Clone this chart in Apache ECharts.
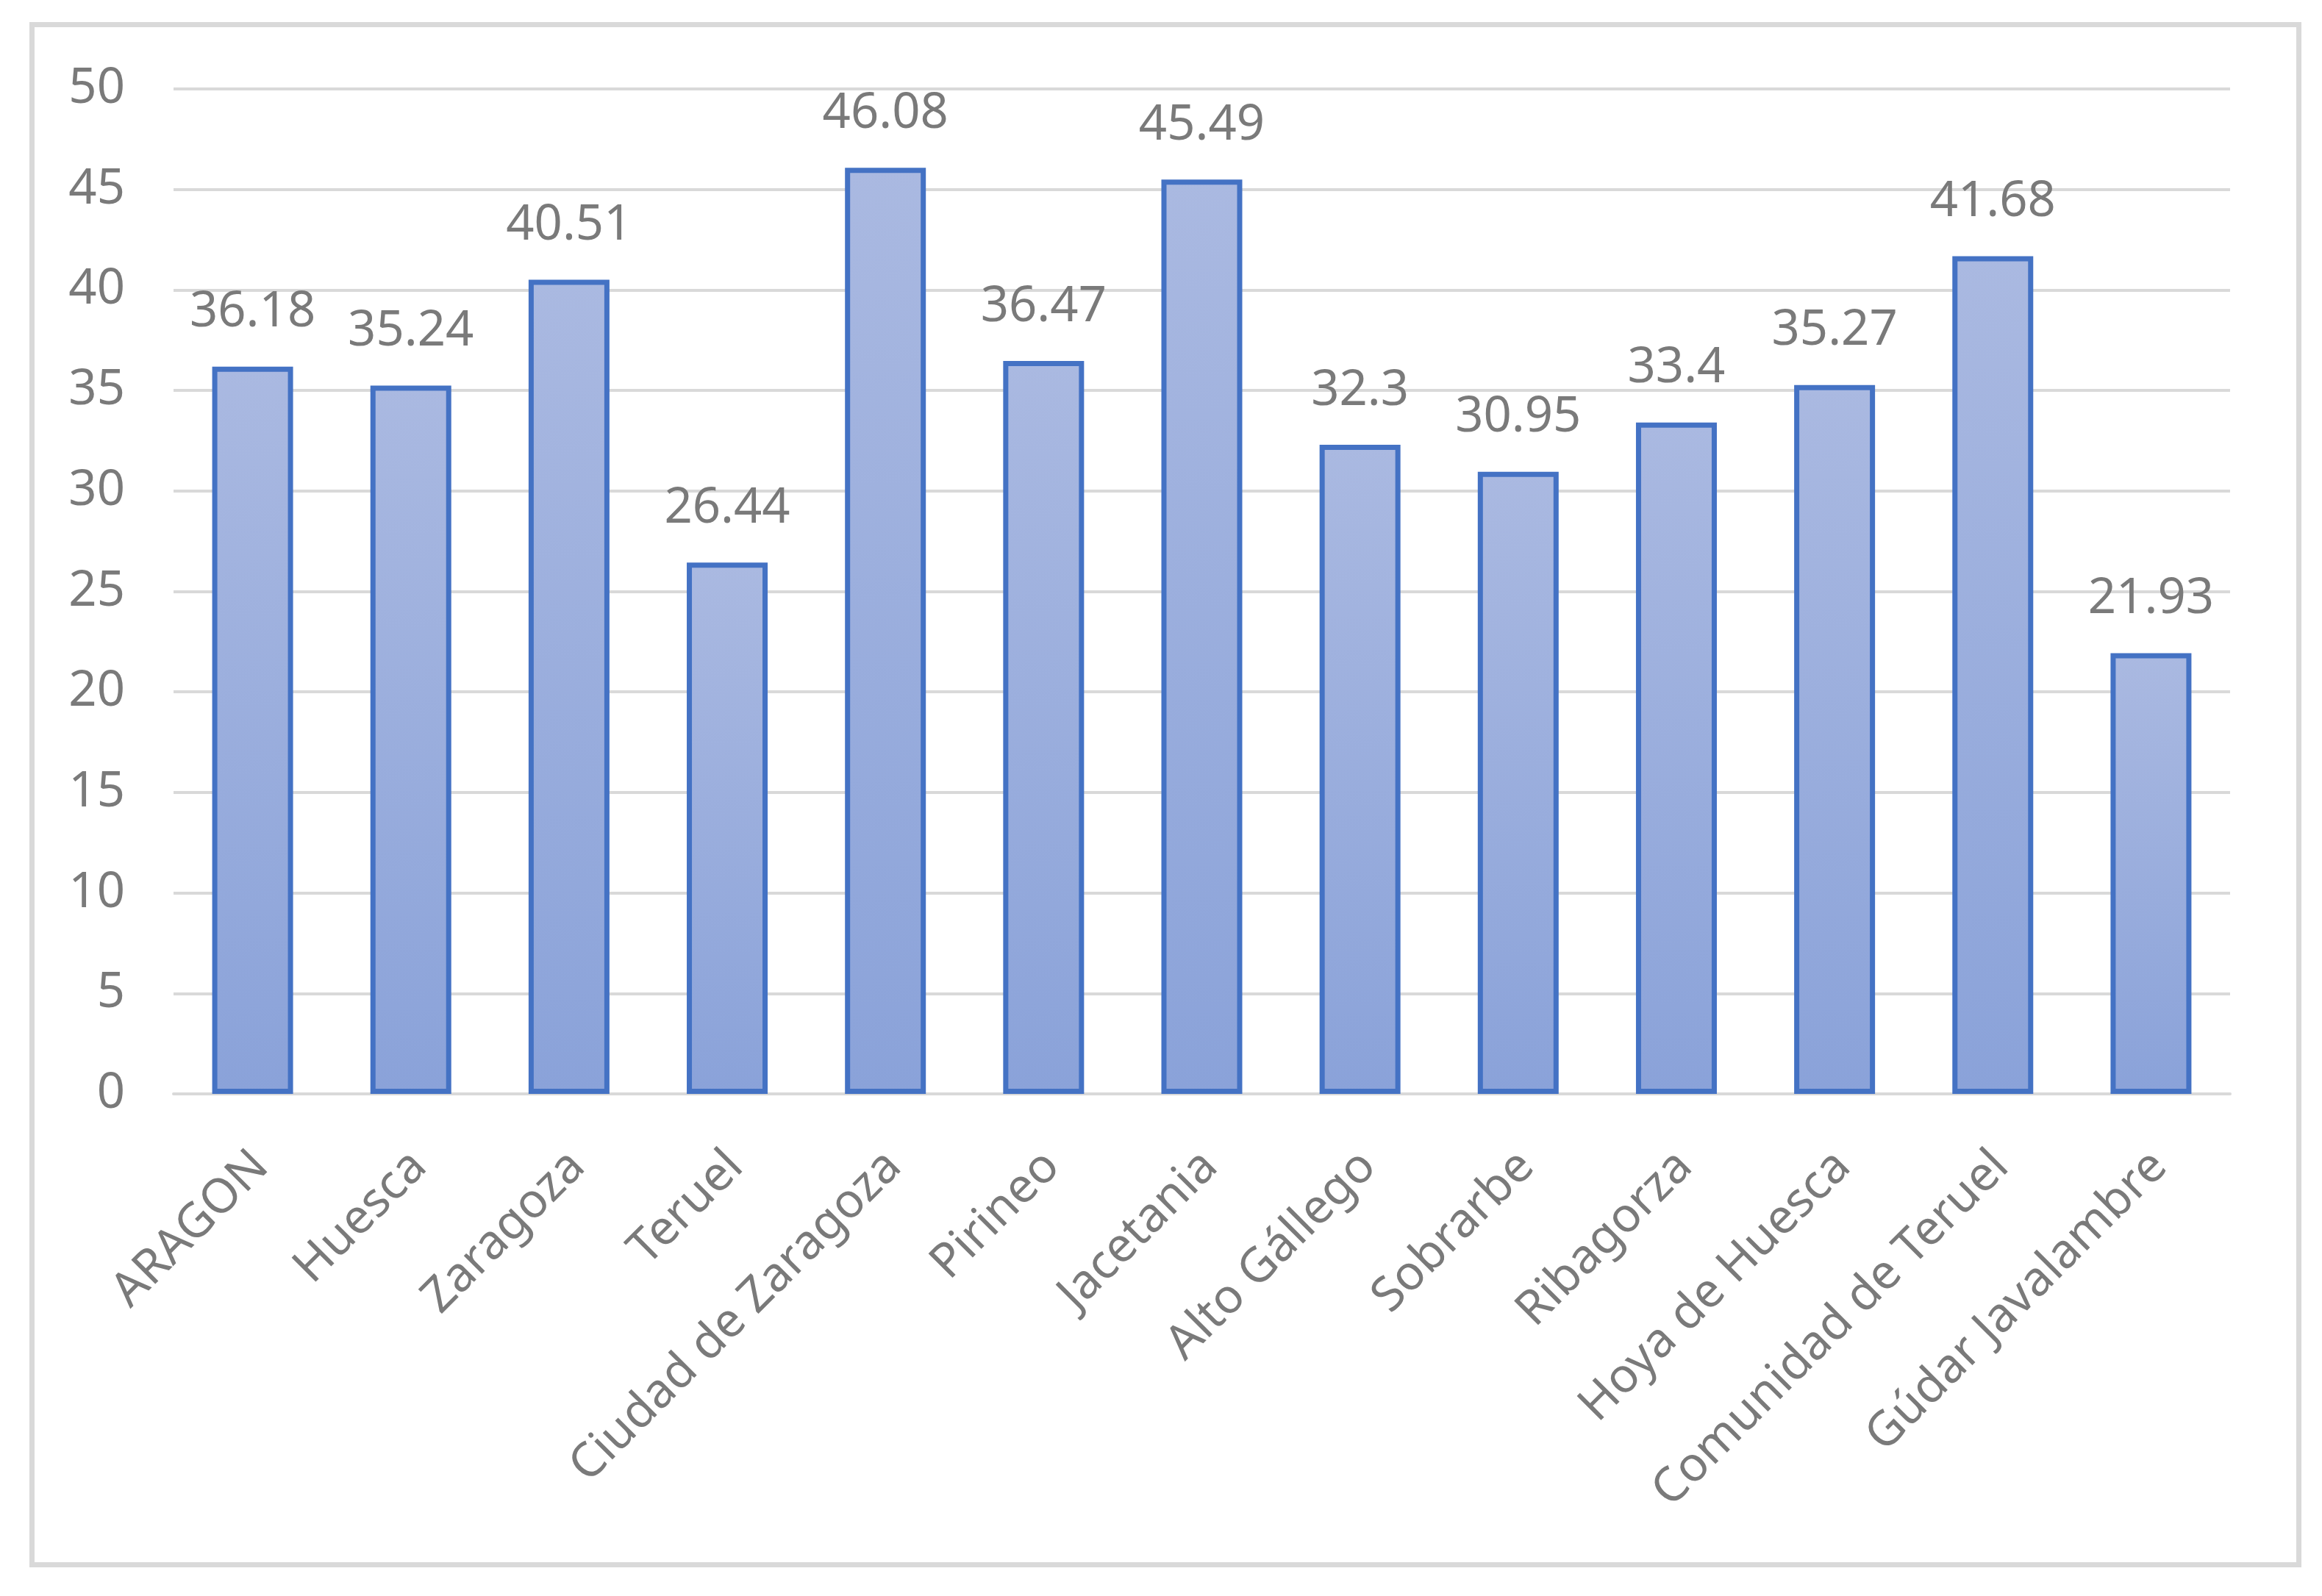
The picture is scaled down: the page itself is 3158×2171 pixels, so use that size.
<!DOCTYPE html>
<html>
<head>
<meta charset="utf-8">
<script src="https://cdn.jsdelivr.net/npm/echarts@6/dist/echarts.min.js"></script>
<style>
html,body{margin:0;padding:0;background:#fff;}
#chart{width:3158px;height:2171px;}
</style>
</head>
<body>
<div id="chart"></div>
<script>
const categories = ["ARAGON","Huesca","Zaragoza","Teruel","Ciudad de Zaragoza","Pirineo","Jacetania","Alto Gállego","Sobrarbe","Ribagorza","Hoya de Huesca","Comunidad de Teruel","Gúdar Javalambre"];
const values = [36.18,35.24,40.51,26.44,46.08,36.47,45.49,32.3,30.95,33.4,35.27,41.68,21.93];
const yMin = 0, yMax = 50, yStep = 5;

const chart = echarts.init(document.getElementById('chart'), null, {renderer:'canvas'});
const font = '"Noto Sans", "Open Sans", sans-serif';
chart.setOption({
  animation:false,
  backgroundColor:'#ffffff',
  graphic:[{
    type:'rect', left:40, top:30, silent:true,
    shape:{x:0,y:0,width:3083,height:2095},
    style:{fill:'none', stroke:'#d9d9d9', lineWidth:7}
  }],
  grid:{left:236, right:125, top:121, bottom:683, containLabel:false},
  xAxis:{
    type:'category', data:categories,
    axisTick:{show:false},
    axisLine:{show:true, lineStyle:{color:'#d9d9d9', width:4}},
    axisLabel:{rotate:45, fontSize:65, color:'#7a7a7a', fontFamily:font, margin:100, interval:0,
      padding:[0,-16,0,0]}
  },
  yAxis:{
    type:'value', min:yMin, max:yMax, interval:yStep,
    axisLine:{show:false}, axisTick:{show:false},
    splitLine:{lineStyle:{color:'#d9d9d9', width:4}},
    axisLabel:{fontSize:67, color:'#7a7a7a', fontFamily:font, margin:66}
  },
  series:[{
    type:'bar', data:values, barWidth:110,
    itemStyle:{
      color:new echarts.graphic.LinearGradient(0,0,0,1,[{offset:0,color:'#AAB9E1'},{offset:1,color:'#8AA2D9'}]),
      borderColor:'#4472C4', borderWidth:7
    },
    label:{show:true, position:'top', distance:40, fontSize:67, color:'#7a7a7a', fontFamily:font,
      formatter:p=>String(p.value)}
  }]
});
</script>
</body>
</html>
